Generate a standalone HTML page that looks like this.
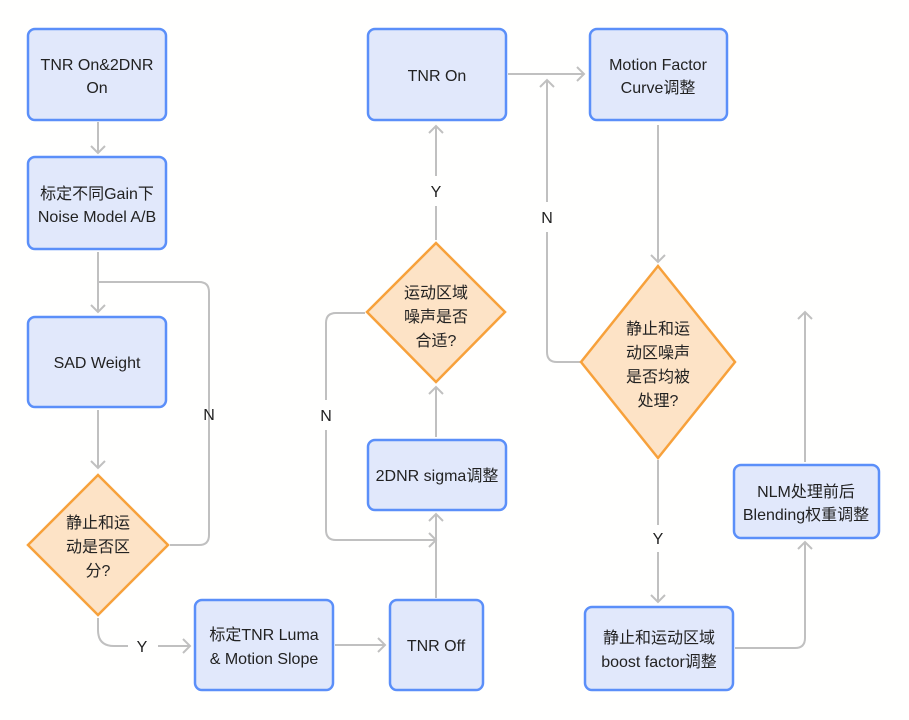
<!DOCTYPE html>
<html><head><meta charset="utf-8"><style>
html,body{margin:0;padding:0;background:#fffffe;}
svg{display:block;font-family:"Liberation Sans","Noto Sans CJK SC",sans-serif;}
.b{fill:#e1e8fb;stroke:#5b8ff9;stroke-width:2.5;}
.d{fill:#fde3c6;stroke:#f7a13b;stroke-width:2.5;}
.l{fill:none;stroke:#c0c0c0;stroke-width:2;}
text{font-size:16px;fill:#222;text-anchor:middle;}
</style></head><body>
<svg width="909" height="720" viewBox="0 0 909 720">
<rect width="909" height="720" fill="#fffffe"/>
<!-- connectors -->
<g class="l">
<path d="M98 122V153"/><path d="M91 146l7 7 7-7"/>
<path d="M98 252V312"/><path d="M91 305l7 7 7-7"/>
<path d="M170 545H199q10 0 10-10V292q0-10-10-10H98"/>
<path d="M98 410V468"/><path d="M91 461l7 7 7-7"/>
<path d="M98 618V630q0 16 16 16H128"/><path d="M158 646H190"/><path d="M183 639l7 7-7 7"/>
<path d="M335 645H385"/><path d="M378 638l7 7-7 7"/>
<path d="M436 598V514"/><path d="M429 521l7-7 7 7"/>
<path d="M365 313H336q-10 0-10 10V400"/><path d="M326 430V530q0 10 10 10H436"/><path d="M429 533l7 7-7 7"/>
<path d="M436 437V387"/><path d="M429 394l7-7 7 7"/>
<path d="M436 240V206"/><path d="M436 176V126"/><path d="M429 133l7-7 7 7"/>
<path d="M508 74H584"/><path d="M577 67l7 7-7 7"/>
<path d="M658 125V262"/><path d="M651 255l7 7 7-7"/>
<path d="M580 362H557q-10 0-10-10V232"/><path d="M547 202V80"/><path d="M540 87l7-7 7 7"/>
<path d="M658 460V525"/><path d="M658 552V602"/><path d="M651 595l7 7 7-7"/>
<path d="M735 648H795q10 0 10-10V542"/><path d="M798 549l7-7 7 7"/>
<path d="M805 462V312"/><path d="M798 319l7-7 7 7"/>
</g>
<g font-size="15" fill="#222">
<text x="209" y="420">N</text>
<text x="142" y="652">Y</text>
<text x="326" y="421">N</text>
<text x="436" y="197">Y</text>
<text x="547" y="223">N</text>
<text x="658" y="544">Y</text>
</g>
<!-- boxes -->
<rect class="b" x="28" y="29" width="138" height="91" rx="7"/>
<text x="97" y="70">TNR On&amp;2DNR</text><text x="97" y="93">On</text>
<rect class="b" x="28" y="157" width="138" height="92" rx="7"/>
<text x="97" y="199">标定不同Gain下</text><text x="97" y="222">Noise Model A/B</text>
<rect class="b" x="28" y="317" width="138" height="90" rx="7"/>
<text x="97" y="368">SAD Weight</text>
<path class="d" d="M98 475L168 545L98 615L28 545Z"/>
<text x="98" y="528">静止和运</text><text x="98" y="552">动是否区</text><text x="98" y="576">分?</text>
<rect class="b" x="195" y="600" width="138" height="90" rx="7"/>
<text x="264" y="640">标定TNR Luma</text><text x="264" y="664">&amp; Motion Slope</text>
<rect class="b" x="390" y="600" width="93" height="90" rx="7"/>
<text x="436" y="651">TNR Off</text>
<rect class="b" x="368" y="440" width="138" height="70" rx="7"/>
<text x="437" y="481">2DNR sigma调整</text>
<path class="d" d="M436 243L505 312L436 382L367 312Z"/>
<text x="436" y="298">运动区域</text><text x="436" y="322">噪声是否</text><text x="436" y="346">合适?</text>
<rect class="b" x="368" y="29" width="138" height="91" rx="7"/>
<text x="437" y="81">TNR On</text>
<rect class="b" x="590" y="29" width="137" height="91" rx="7"/>
<text x="658" y="70">Motion Factor</text><text x="658" y="93">Curve调整</text>
<path class="d" d="M658 266L735 362L658 458L581 362Z"/>
<text x="658" y="334">静止和运</text><text x="658" y="358">动区噪声</text><text x="658" y="382">是否均被</text><text x="658" y="406">处理?</text>
<rect class="b" x="585" y="607" width="148" height="83" rx="7"/>
<text x="659" y="643">静止和运动区域</text><text x="659" y="667">boost factor调整</text>
<rect class="b" x="734" y="465" width="145" height="73" rx="7"/>
<text x="806" y="497">NLM处理前后</text><text x="806" y="520">Blending权重调整</text>
</svg>
</body></html>
